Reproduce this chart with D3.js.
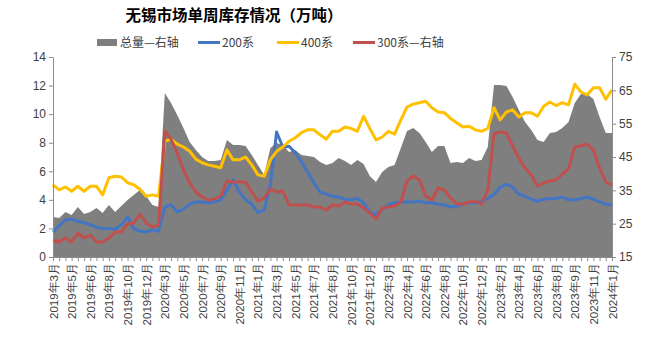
<!DOCTYPE html>
<html><head><meta charset="utf-8">
<script src="https://cdn.jsdelivr.net/npm/d3@7"></script>
<style>
body{margin:0;background:#fff;}
svg{display:block;font-family:"Noto Sans CJK SC","Noto Sans",sans-serif;}
</style></head>
<body><svg id="c" width="668" height="342"></svg>
<script>
const title = "无锡市场单周库存情况（万吨）";
const seriesNames = ["总量—右轴","200系","400系","300系—右轴"];
const xLabels = ["2019年3月","2019年5月","2019年6月","2019年8月","2019年10月","2019年12月","2020年3月","2020年5月","2020年7月","2020年9月","2020年11月","2021年1月","2021年3月","2021年5月","2021年7月","2021年8月","2021年10月","2021年12月","2022年3月","2022年4月","2022年6月","2022年8月","2022年10月","2022年12月","2023年2月","2023年4月","2023年6月","2023年8月","2023年9月","2023年11月","2024年1月"];
const leftTicks = [0,2,4,6,8,10,12,14];
const rightTicks = [15,25,35,45,55,65,75];
// 总量 (right axis)
const total = [27.0,26.7,28.5,27.6,30.0,27.9,28.5,29.7,28.2,30.6,28.5,30.3,32.1,33.6,35.1,33.3,30.6,30.0,
64.2,61.2,57.6,53.7,49.5,47.1,45.0,43.8,43.8,44.1,50.1,48.6,48.6,48.3,45.6,42.6,39.6,47.7,49.2,48.6,46.5,47.1,
45.6,45.3,45.0,43.5,42.6,43.2,44.7,43.8,42.6,44.1,42.9,39.3,37.5,40.5,42.0,42.6,47.7,52.8,53.7,52.2,
49.5,46.5,48.3,48.3,43.2,43.5,43.2,44.7,43.8,44.1,48.0,66.6,66.6,66.3,63.0,59.1,55.5,53.1,50.1,49.5,
52.2,52.5,53.7,55.5,61.2,63.9,63.9,62.4,57.0,52.2,52.2];
// 200系 (left axis)
const s200 = [1.75,2.2,2.6,2.65,2.5,2.4,2.25,2.1,2.0,2.0,1.95,2.25,2.8,2.0,1.8,1.75,1.9,1.8,
3.5,3.65,3.15,3.35,3.7,3.85,3.85,3.8,3.85,4.0,4.7,5.4,4.55,4.0,3.7,3.1,3.3,5.05,8.75,7.7,7.75,7.3,
6.65,5.95,5.2,4.55,4.4,4.25,4.2,4.05,4.0,4.1,3.8,3.15,2.95,3.35,3.65,3.8,3.85,3.85,3.85,3.9,
3.8,3.8,3.7,3.65,3.5,3.55,3.7,3.8,3.8,3.9,4.1,4.4,4.9,5.1,4.9,4.4,4.25,4.05,3.9,4.05,
4.1,4.1,4.2,4.0,4.0,4.1,4.2,4.05,3.85,3.7,3.65];
// 400系 (left axis)
const s400 = [5.05,4.7,4.9,4.6,4.95,4.6,4.95,4.95,4.35,5.55,5.65,5.6,5.2,5.05,4.75,4.25,4.35,4.25,
8.1,8.25,7.9,7.7,7.4,6.85,6.6,6.45,6.35,6.25,7.5,6.8,6.8,7.0,6.45,5.75,5.65,6.8,7.4,7.7,8.1,8.35,
8.7,8.9,8.9,8.55,8.25,8.8,8.8,9.1,9.0,8.8,9.85,9.0,8.2,8.4,8.8,8.6,9.6,10.5,10.7,10.8,
10.9,10.45,10.15,10.1,9.7,9.4,9.1,9.15,8.9,8.8,9.0,10.45,9.6,10.15,10.3,9.8,10.1,10.1,9.85,10.55,
10.85,10.6,10.8,10.65,12.1,11.55,11.35,11.85,11.85,11.05,11.7];
// 300系 (right axis)
const s300 = [20.1,19.5,20.7,19.5,22.2,20.7,21.6,19.5,19.5,20.7,22.5,22.5,24.9,25.2,27.9,25.2,24.0,24.6,
52.8,50.4,46.2,41.1,37.2,34.5,33.0,32.1,32.4,33.3,37.8,37.5,37.5,37.5,34.5,31.8,32.7,35.4,34.5,34.8,30.6,30.6,
30.6,30.6,30.0,30.0,29.1,30.6,30.3,31.5,30.9,30.9,29.7,28.2,26.4,29.7,30.0,30.3,31.5,37.8,39.3,38.1,
33.3,32.1,35.7,35.1,32.7,30.9,30.9,31.5,31.8,30.9,35.1,51.9,52.5,52.2,48.3,44.7,41.7,39.6,36.3,37.2,
37.8,38.1,39.9,41.4,48.0,48.3,48.9,47.1,41.7,37.5,36.6];

const colors = {total:"#7f7f7f", s200:"#4475c2", s400:"#ffc000", s300:"#c0504d"};
const svg = d3.select("#c");
const L = 53, R = 612, T = 57, B = 257;
const n = total.length;
const x = d3.scaleLinear().domain([0, n-1]).range([L, R]);
const yL = d3.scaleLinear().domain([0,14]).range([B, T]);
const yR = d3.scaleLinear().domain([15,75]).range([B, T]);

// title
svg.append("text").attr("x",234).attr("y",21).attr("text-anchor","middle")
  .attr("font-size",15.5).attr("font-weight","bold").attr("fill","#000").text(title);

// area
const area = d3.area().x((d,i)=>x(i)).y0(B).y1(d=>yR(d));
svg.append("path").datum(total).attr("d",area).attr("fill",colors.total);

const lineL = d3.line().x((d,i)=>x(i)).y(d=>yL(d));
const lineR = d3.line().x((d,i)=>x(i)).y(d=>yR(d));
svg.append("path").datum(s200).attr("d",lineL).attr("fill","none").attr("stroke",colors.s200).attr("stroke-width",3).attr("stroke-linejoin","round");
svg.append("path").datum(s400).attr("d",lineL).attr("fill","none").attr("stroke",colors.s400).attr("stroke-width",3).attr("stroke-linejoin","round");
svg.append("path").datum(s300).attr("d",lineR).attr("fill","none").attr("stroke",colors.s300).attr("stroke-width",3).attr("stroke-linejoin","round");

// axes
function styleAxis(g){
  g.selectAll("path,line").attr("stroke","#8c8c8c");
  g.selectAll("text").attr("fill","#404040").attr("font-size",12);
}
const gl = svg.append("g").attr("transform",`translate(${L},0)`)
  .call(d3.axisLeft(yL).tickValues(leftTicks).tickSize(4).tickSizeOuter(0).tickPadding(3));
styleAxis(gl);
const gr = svg.append("g").attr("transform",`translate(${R},0)`)
  .call(d3.axisRight(yR).tickValues(rightTicks).tickSize(4).tickSizeOuter(0).tickPadding(3));
styleAxis(gr);
const gb = svg.append("g").attr("transform",`translate(0,${B})`)
  .call(d3.axisBottom(x).tickValues(d3.range(0,n)).tickSize(4).tickSizeOuter(0).tickFormat(""));
styleAxis(gb);
const gbl = svg.append("g").attr("transform",`translate(0,${B})`)
  .call(d3.axisBottom(x).tickValues(d3.range(0,n,3)).tickSize(0).tickFormat((d,i)=>xLabels[i]));
gbl.select(".domain").remove();
gbl.selectAll("text").attr("fill","#404040").attr("font-size",11.5)
  .attr("text-anchor","end").attr("transform","rotate(-90)").attr("dy","0.35em").attr("dx","-6").attr("x",0).attr("y",0);

// legend
const lg = svg.append("g").attr("font-size",12).attr("fill","#404040");
lg.append("rect").attr("x",97).attr("y",39).attr("width",20).attr("height",7).attr("fill",colors.total);
lg.append("text").attr("x",120).attr("y",47).text(seriesNames[0]);
const legLines = [[198,colors.s200,seriesNames[1]],[277,colors.s400,seriesNames[2]],[353,colors.s300,seriesNames[3]]];
legLines.forEach(([lx,c,t])=>{
  lg.append("line").attr("x1",lx).attr("x2",lx+22).attr("y1",42.5).attr("y2",42.5).attr("stroke",c).attr("stroke-width",3);
  lg.append("text").attr("x",lx+24).attr("y",47).text(t);
});
</script></body></html>
